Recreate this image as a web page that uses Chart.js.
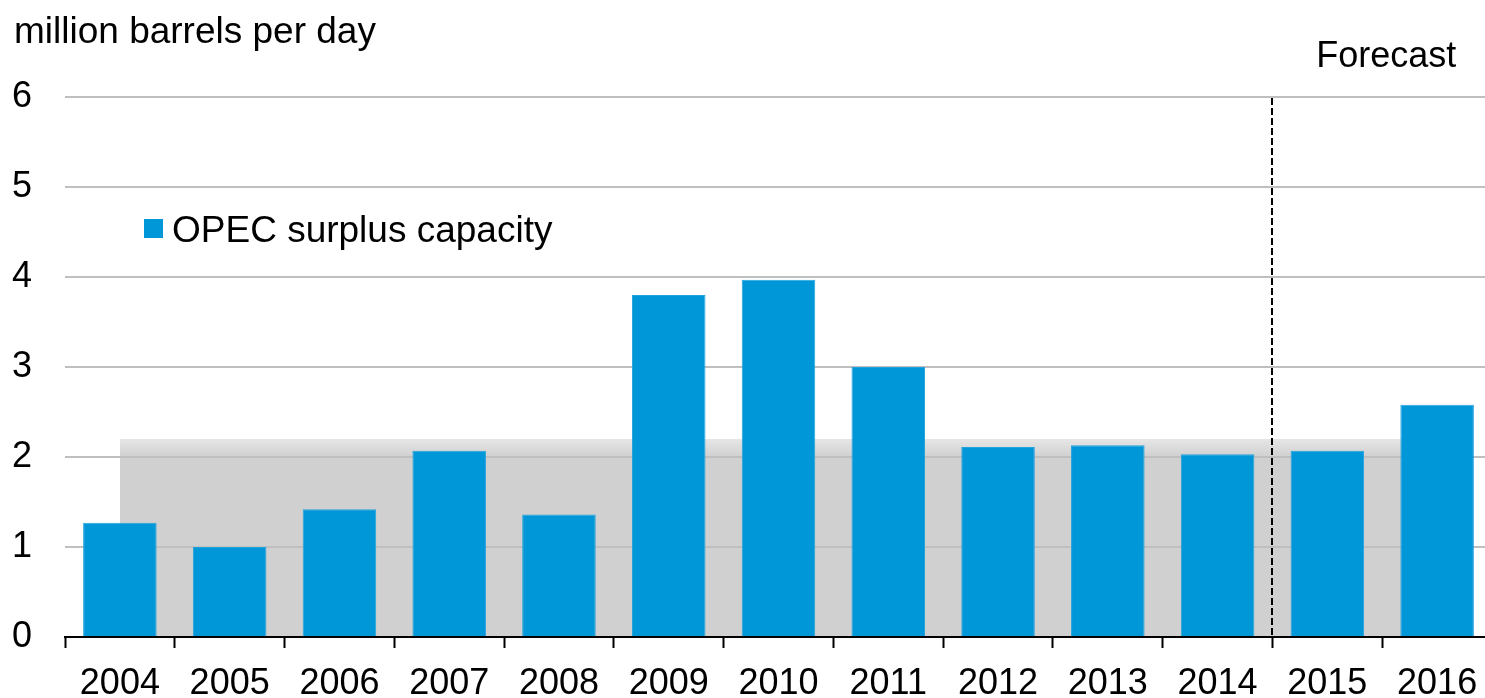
<!DOCTYPE html>
<html>
<head>
<meta charset="utf-8">
<script src="https://cdn.jsdelivr.net/npm/chart.js@4"></script>
<style>
  html, body { margin: 0; padding: 0; background: #fff; overflow: hidden; }
  #wrap { width: 1492px; height: 698px; }
</style>
</head>
<body>
<div id="wrap"><canvas id="c" width="1492" height="698"></canvas></div>
<script>
const years = ['2004','2005','2006','2007','2008','2009','2010','2011','2012','2013','2014','2015','2016'];
const surplus = [1.27, 1.00, 1.42, 2.07, 1.36, 3.80, 3.97, 3.00, 2.11, 2.13, 2.03, 2.07, 2.58];
const averageBand = [2.2, 2.2, 2.2, 2.2, 2.2, 2.2, 2.2, 2.2, 2.2, 2.2, 2.2, 2.2, 2.2];
const yTicks = [0, 1, 2, 3, 4, 5, 6];
const unitLabel = 'million barrels per day';
const forecastLabel = 'Forecast';
const seriesLabel = 'OPEC surplus capacity';
const forecastStartIndex = 11;

const FONT = "'Liberation Sans', Arial, sans-serif";
const BAR_COLOR = '#0097d9';
const GRID_COLOR = '#bfbfbf';

const overlay = {
  id: 'overlay',
  beforeDatasetDraw(chart, args) {
    if (args.index !== 1) return;
    // redraw horizontal gridlines above the shaded band, below the bars
    const y = chart.scales.y, a = chart.chartArea, ctx = chart.ctx;
    ctx.save();
    ctx.strokeStyle = GRID_COLOR;
    ctx.lineWidth = 2;
    yTicks.forEach(v => {
      if (v === 0) return;
      const py = Math.round(y.getPixelForValue(v));
      ctx.beginPath();
      ctx.moveTo(a.left, py);
      ctx.lineTo(a.right, py);
      ctx.stroke();
    });
    ctx.restore();
  },
  afterDatasetsDraw(chart) {
    const ctx = chart.ctx, x = chart.scales.x, y = chart.scales.y, a = chart.chartArea;
    ctx.save();
    // x axis baseline on top of the band and bars
    ctx.strokeStyle = '#000';
    ctx.lineWidth = 2;
    const by = Math.round(y.getPixelForValue(0));
    ctx.beginPath();
    ctx.moveTo(a.left - 1, by);
    ctx.lineTo(a.right, by);
    ctx.stroke();
    // dashed forecast divider
    const dx = Math.round((x.getPixelForValue(forecastStartIndex - 1) + x.getPixelForValue(forecastStartIndex)) / 2);
    ctx.setLineDash([7, 3]);
    ctx.beginPath();
    ctx.moveTo(dx, y.getPixelForValue(6) + 1);
    ctx.lineTo(dx, by);
    ctx.stroke();
    ctx.setLineDash([]);
    // texts
    ctx.fillStyle = '#000';
    ctx.font = '37px ' + FONT;
    ctx.textBaseline = 'alphabetic';
    ctx.textAlign = 'left';
    ctx.fillText(unitLabel, 14, 43);
    ctx.font = '36px ' + FONT;
    ctx.textAlign = 'center';
    const fx = (x.getPixelForValue(forecastStartIndex) + x.getPixelForValue(forecastStartIndex + 1)) / 2 + 4;
    ctx.fillText(forecastLabel, fx, 67);
    // legend inside plot
    const ds = chart.data.datasets[1];
    ctx.fillStyle = ds.backgroundColor;
    ctx.fillRect(144, 219, 19, 19);
    ctx.fillStyle = '#000';
    ctx.textAlign = 'left';
    ctx.font = '37px ' + FONT;
    ctx.fillText(ds.label, 172, 242);
    ctx.restore();
  }
};

new Chart(document.getElementById('c'), {
  type: 'bar',
  data: {
    labels: years,
    datasets: [
      {
        type: 'line',
        label: 'band',
        data: averageBand,
        fill: 'origin',
        borderWidth: 0,
        pointRadius: 0,
        tension: 0,
        order: 2,
        backgroundColor(ctx) {
          const chart = ctx.chart;
          const a = chart.chartArea;
          if (!a) return '#d0d0d0';
          const top = chart.scales.y.getPixelForValue(averageBand[0]);
          const g = chart.ctx.createLinearGradient(0, top, 0, top + 18);
          g.addColorStop(0, '#e6e6e6');
          g.addColorStop(1, '#d0d0d0');
          return g;
        }
      },
      {
        type: 'bar',
        label: seriesLabel,
        data: surplus,
        backgroundColor: BAR_COLOR,
        borderColor: '#22a3dd',
        borderWidth: 1,
        categoryPercentage: 1,
        barPercentage: 0.67,
        order: 1
      }
    ]
  },
  options: {
    responsive: false,
    animation: false,
    devicePixelRatio: 1,
    layout: { padding: { left: 12, top: 97, right: 0, bottom: 0 } },
    plugins: {
      legend: { display: false },
      tooltip: { enabled: false },
      title: { display: false }
    },
    scales: {
      x: {
        offset: true,
        grid: {
          offset: true,
          drawOnChartArea: false,
          drawTicks: true,
          tickLength: 11,
          tickColor: '#000',
          tickWidth: 2
        },
        border: { display: true, color: '#000', width: 2 },
        ticks: {
          color: '#000',
          font: { family: FONT, size: 36 },
          padding: 14,
          maxRotation: 0,
          autoSkip: false
        },
        afterFit(scale) { scale.height = 61; }
      },
      y: {
        min: 0,
        max: 6,
        afterBuildTicks(scale) { scale.ticks = yTicks.map(v => ({ value: v })); },
        grid: { color: GRID_COLOR, lineWidth: 2, drawTicks: false },
        border: { display: false },
        ticks: {
          color: '#000',
          font: { family: FONT, size: 36 },
          crossAlign: 'far',
          padding: 0
        },
        afterFit(scale) { scale.width = 53; }
      }
    }
  },
  plugins: [overlay]
});
</script>
</body>
</html>
